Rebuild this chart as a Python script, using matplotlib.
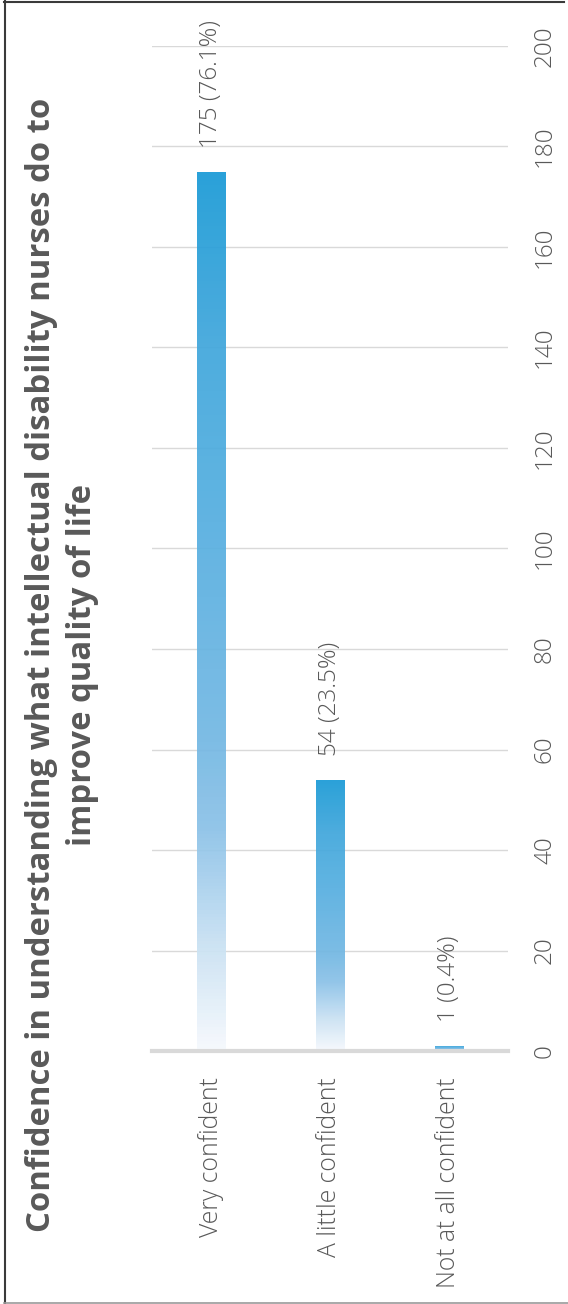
import numpy as np
import matplotlib
matplotlib.use('Agg')
import matplotlib.pyplot as plt
from matplotlib.colors import LinearSegmentedColormap
from matplotlib.lines import Line2D

plt.rcParams['font.family'] = ['Open Sans', 'DejaVu Sans']

categories = ['Very confident', 'A little confident', 'Not at all confident']
counts = [175, 54, 1]
percents = [76.1, 23.5, 0.4]
y_ticks = [0, 20, 40, 60, 80, 100, 120, 140, 160, 180, 200]
title = ('Confidence in understanding what intellectual disability nurses do to\n'
         'improve quality of life')

text_grey = '#595959'
grid_grey = '#d9d9d9'

# blue fade, white at the base of each bar up to full blue at its top
bar_cmap = LinearSegmentedColormap.from_list('bar_fade', [
    (0.00, '#f6f9fd'),
    (0.12, '#c9e1f3'),
    (0.25, '#8cc2e8'),
    (0.35, '#74b8e3'),
    (0.60, '#56afe0'),
    (0.80, '#41a7dc'),
    (1.00, '#1a9ad6'),
])

fig = plt.figure(figsize=(5.68, 13.04), dpi=100)
ax = fig.add_axes([152 / 568, (1304 - 1051) / 1304, 356 / 568, 1005 / 1304])

x = np.arange(len(categories))
bars = ax.bar(x, counts, width=0.236, color='none', edgecolor='none', zorder=3)

grad = np.linspace(0, 1, 256).reshape(-1, 1)
for patch in bars.patches:
    x0, y0 = patch.get_x(), patch.get_y()
    w, h = patch.get_width(), patch.get_height()
    img = ax.imshow(grad, cmap=bar_cmap, origin='lower', aspect='auto',
                    extent=[x0, x0 + w, y0, y0 + h], alpha=0.93, zorder=3)
    img.set_clip_path(patch)

for xi, v, p in zip(x, counts, percents):
    ax.annotate(f'{v} ({p}%)', xy=(xi, v), xytext=(0, 17), textcoords='offset points',
                rotation=90, ha='center', va='bottom', fontsize=17.5, color=text_grey,
                fontweight='light')

ax.set_xlim(-0.5, len(categories) - 0.5)
ax.set_ylim(0, 200)
ax.set_yticks(y_ticks)
ax.yaxis.tick_right()
ax.yaxis.grid(True, color=grid_grey, linewidth=1.0, zorder=0)
ax.set_axisbelow(True)
ax.axhline(0, color=grid_grey, linewidth=3, zorder=4, clip_on=False)

ax.set_xticks(x)
ax.set_xticklabels(categories)
ax.tick_params(axis='x', length=0, pad=19, labelsize=17.8, labelcolor=text_grey, labelrotation=90)
ax.tick_params(axis='y', length=0, pad=18, labelsize=17.5, labelcolor=text_grey, labelrotation=90)
for lbl in ax.get_yticklabels():
    lbl.set_va('center')
    lbl.set_fontweight('light')
for lbl in ax.get_xticklabels():
    lbl.set_fontweight('light')

for s in ax.spines.values():
    s.set_visible(False)

fig.text(62 / 568, 1 - 665 / 1304, title, rotation=90, ha='center', va='center',
         multialignment='center', fontsize=23.7, fontweight='bold', color=text_grey,
         linespacing=1.3)

# outer frame
fig.add_artist(Line2D([4.5 / 568, 4.5 / 568], [0, 1], transform=fig.transFigure,
                      color='#3a3a3a', linewidth=1.5))
fig.add_artist(Line2D([4 / 568, 564 / 568], [1 - 1.5 / 1304, 1 - 1.5 / 1304],
                      transform=fig.transFigure, color='#3a3a3a', linewidth=1.5))
fig.add_artist(Line2D([4 / 568, 1], [1 - 1302.5 / 1304, 1 - 1302.5 / 1304],
                      transform=fig.transFigure, color='#9a9a9a', linewidth=1.2))

fig.savefig('out.png', dpi=100)
